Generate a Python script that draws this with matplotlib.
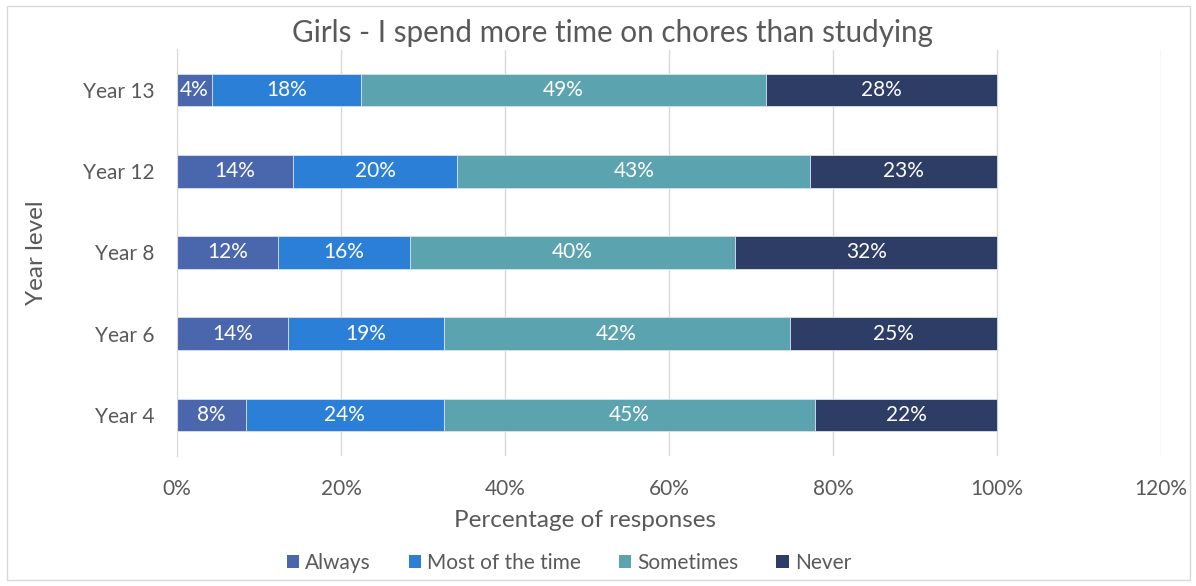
import matplotlib
matplotlib.use("Agg")
import matplotlib.pyplot as plt
from matplotlib.patches import Rectangle

categories = ["Year 4", "Year 6", "Year 8", "Year 12", "Year 13"]
series_names = ["Always", "Most of the time", "Sometimes", "Never"]
always = [8.4, 13.5, 12.3, 14.1, 4.3]
most = [24.1, 19.0, 16.1, 20.1, 18.1]
sometimes = [45.3, 42.2, 39.7, 43.0, 49.4]
never = [22.2, 25.3, 31.9, 22.8, 28.2]
labels = {
    "Always": ["8%", "14%", "12%", "14%", "4%"],
    "Most of the time": ["24%", "19%", "16%", "20%", "18%"],
    "Sometimes": ["45%", "42%", "40%", "43%", "49%"],
    "Never": ["22%", "25%", "32%", "23%", "28%"],
}
colors = ["#4A66AC", "#2B7FD7", "#5BA3AE", "#2E3D66"]
xticks = [0, 20, 40, 60, 80, 100, 120]

plt.rcParams['font.family'] = ['Lato', 'DejaVu Sans']
txt = "#595959"

fig = plt.figure(figsize=(11.96, 5.86), dpi=100)
fig.patches.append(Rectangle((7/1196, 6/586), 1183/1196, 574/586, transform=fig.transFigure,
                             fill=False, edgecolor="#D9D9D9", linewidth=1.0))
ax = fig.add_axes([177/1196, 1 - 455.5/586, 984/1196, 406/586])

data = [always, most, sometimes, never]
y = list(range(len(categories)))
left = [0.0] * len(categories)
for name, vals, c in zip(series_names, data, colors):
    bars = ax.barh(y, vals, left=left, height=0.4, color=c, edgecolor="#D6E0F0",
                   linewidth=0.6, label=name, zorder=3)
    for i, (b, lab) in enumerate(zip(bars, labels[name])):
        ax.text(left[i] + vals[i] / 2, y[i], lab, ha="center", va="center",
                color="white", fontsize=15, zorder=4)
    left = [l + v for l, v in zip(left, vals)]

ax.set_xlim(0, 120)
ax.set_ylim(-0.5, len(categories) - 0.5)
ax.set_xticks(xticks)
ax.set_xticklabels([f"{t}%" for t in xticks])
ax.set_yticks(y)
ax.set_yticklabels(categories)
ax.tick_params(axis="both", length=0, labelsize=15, colors=txt)
ax.tick_params(axis="x", pad=17)
ax.tick_params(axis="y", pad=16)
ax.grid(axis="x", color="#D9D9D9", linewidth=1.0, zorder=0)
for s in ["top", "right", "bottom"]:
    ax.spines[s].set_visible(False)
ax.spines["left"].set_color("#D9D9D9")
ax.spines["left"].set_zorder(5)

ax.set_xlabel("Percentage of responses", fontsize=17.5, color=txt, labelpad=6)
ax.xaxis.set_label_coords((585 - 177) / 984, -0.135)
ax.set_ylabel("Year level", fontsize=17.5, color=txt)
ax.yaxis.set_label_coords(-(177 - 47) / 984, 0.5)
fig.text(612/1196, 1 - 33/586, "Girls - I spend more time on chores than studying",
         ha="center", va="center", fontsize=21.3, color=txt)

handles, lbls = ax.get_legend_handles_labels()
leg = fig.legend(handles, lbls, loc="center", bbox_to_anchor=(569/1196, 1 - 563/586),
                 ncol=4, frameon=False, fontsize=15, handlelength=0.6, handleheight=0.6,
                 handletextpad=0.3, columnspacing=1.8, labelcolor=txt)
for h in leg.legend_handles:
    h.set_edgecolor("none")

fig.savefig("out.png", dpi=100, facecolor="white")
